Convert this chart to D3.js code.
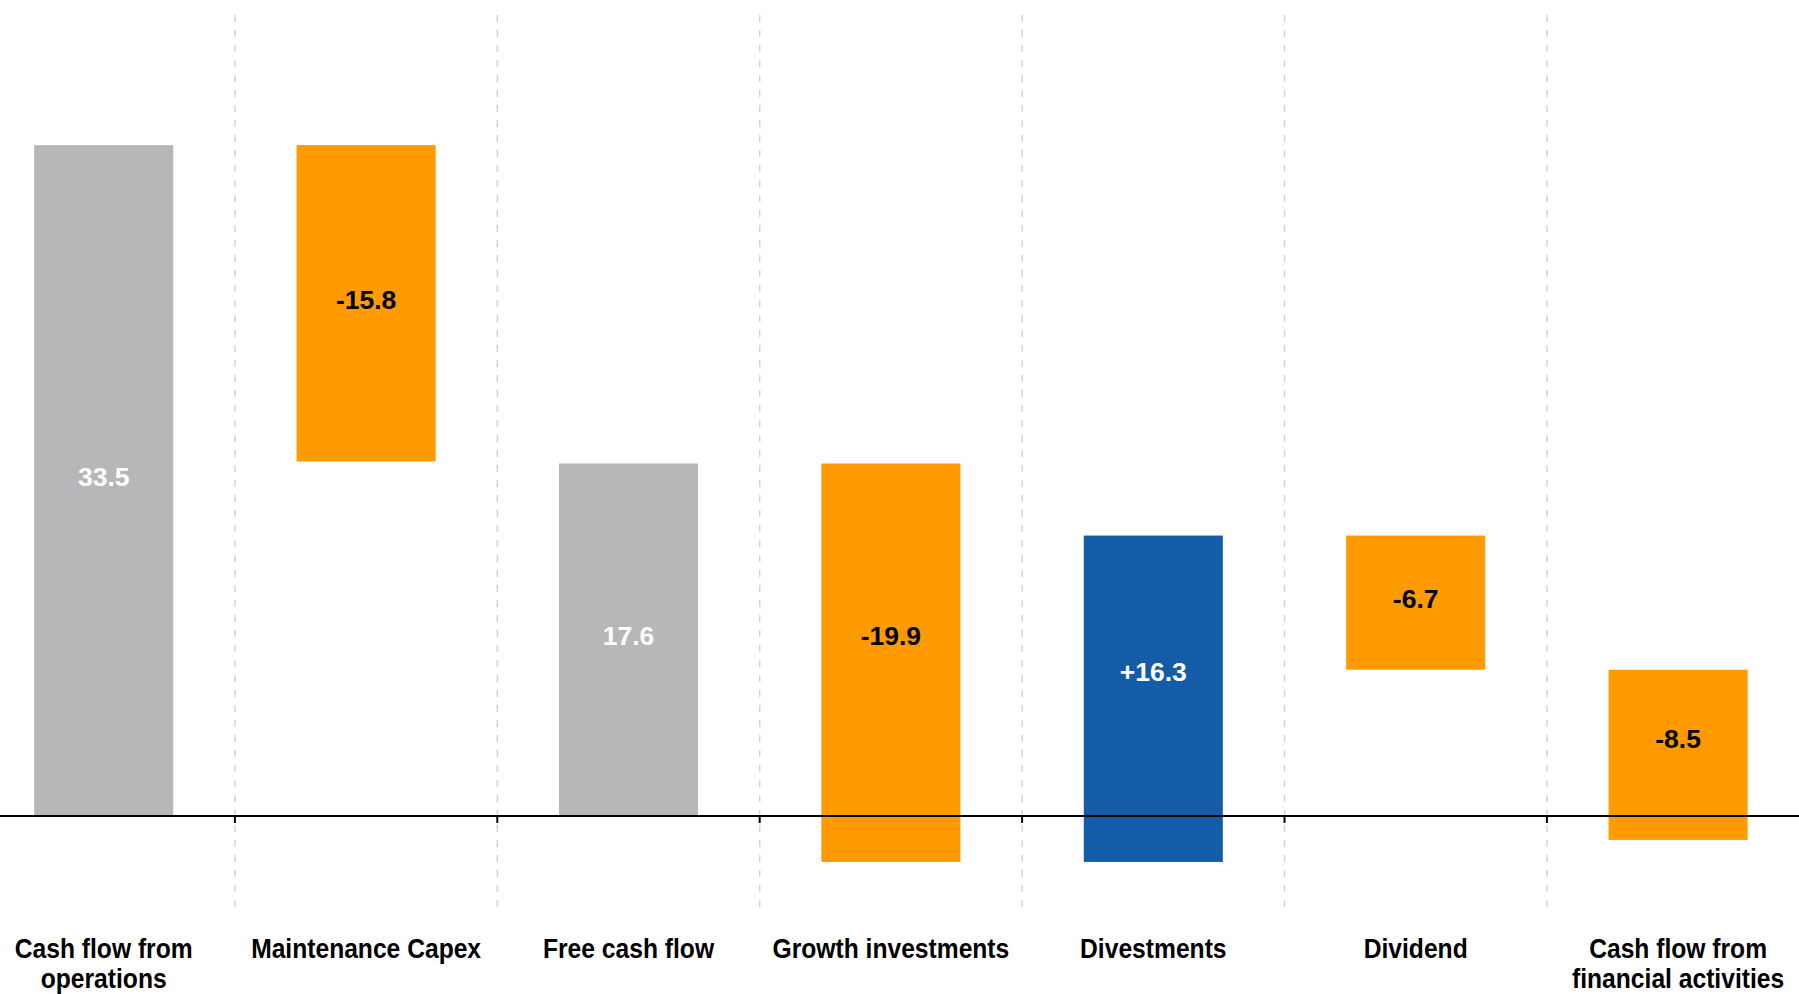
<!DOCTYPE html>
<html>
<head>
<meta charset="utf-8">
<script src="https://cdn.jsdelivr.net/npm/d3@7"></script>
<style>
	html, body { margin:0; padding:0; background:#fff; }
	svg { display:block; }
</style>
</head>
<body>
<div id="wrap"></div>
<script>
//waterfall: cash flow bridge
(function(){

	//data
	var categories = ["cfo", "capex", "fcf", "growth", "divest", "dividend", "cffa"];
	var catLines = [
		["Cash flow from", "operations"],
		["Maintenance Capex"],
		["Free cash flow"],
		["Growth investments"],
		["Divestments"],
		["Dividend"],
		["Cash flow from", "financial activities"]
	];
	var values = [33.5, -15.8, 17.6, -19.9, 16.3, -6.7, -8.5];
	var kinds = ["total", "delta", "total", "delta", "delta", "delta", "delta"];
	var valueLabels = ["33.5", "-15.8", "17.6", "-19.9", "+16.3", "-6.7", "-8.5"];

	var W = 1799, H = 994;
	var col = {total:"#b6b7b9", neg:"#ff9a00", pos:"#145ca8"};

	var svg = d3.select("#wrap").append("svg").attr("width", W).attr("height", H);

	var x = d3.scaleBand().domain(categories).range([-27.5, 1809.3]).paddingInner(0).paddingOuter(0);
	var y = d3.scaleLinear().domain([-5, 40]).range([916, 15]);
	var barW = x.bandwidth()*0.53;

	//build running totals
	var run = 0;
	var bars = categories.map(function(c, i){
		var v = values[i], a, b;
		if(kinds[i]==="total"){ a = 0; b = v; run = v; }
		else{ a = run; b = run + v; run = b; }
		return {cat:c, i:i, lo:Math.min(a,b), hi:Math.max(a,b), v:v, kind:kinds[i]};
	});

	//dashed separators between categories
	var bounds = categories.slice(0, -1).map(function(c){ return x(c) + x.bandwidth(); });
	svg.append("g").selectAll("line").data(bounds).enter().append("line")
		.attr("x1", function(d){return d}).attr("x2", function(d){return d})
		.attr("y1", y(40)).attr("y2", y(-4.8))
		.attr("stroke", "#d3d3d3").attr("stroke-width", 1.4)
		.attr("stroke-dasharray", "7,8");

	//bars
	svg.append("g").selectAll("rect").data(bars).enter().append("rect")
		.attr("x", function(d){ return x(d.cat) + (x.bandwidth()-barW)/2; })
		.attr("width", barW)
		.attr("y", function(d){ return y(d.hi); })
		.attr("height", function(d){ return y(d.lo) - y(d.hi); })
		.attr("fill", function(d){ return d.kind==="total" ? col.total : (d.v<0 ? col.neg : col.pos); });

	//zero line with ticks at the separators
	svg.append("line").attr("x1", 0).attr("x2", W).attr("y1", y(0)).attr("y2", y(0))
		.attr("stroke", "#000").attr("stroke-width", 2);
	svg.append("g").selectAll("line").data(bounds).enter().append("line")
		.attr("x1", function(d){return d}).attr("x2", function(d){return d})
		.attr("y1", y(0)).attr("y2", y(0) + 7)
		.attr("stroke", "#000").attr("stroke-width", 2);

	//value labels, centred on the part of the bar above zero
	svg.append("g").selectAll("text").data(bars).enter().append("text")
		.attr("x", function(d){ return x(d.cat) + x.bandwidth()/2; })
		.attr("y", function(d){ return (y(d.hi) + y(Math.max(d.lo, 0)))/2 - 4; })
		.attr("dy", "0.36em")
		.attr("text-anchor", "middle")
		.style("font-family", "'Liberation Sans', Arial, sans-serif")
		.style("font-weight", "bold").style("font-size", "26.5px")
		.attr("fill", function(d){ return (d.kind==="total" || d.v>0) ? "#fff" : "#000"; })
		.text(function(d){ return valueLabels[d.i]; });

	//category labels (narrow, tall type)
	var cl = svg.append("g").selectAll("g").data(categories).enter().append("g")
		.attr("transform", function(c){ return "translate(" + (x(c) + x.bandwidth()/2) + ",958) scale(0.88,1)"; });
	cl.selectAll("text").data(function(c, i){ return catLines[i]; }).enter().append("text")
		.attr("x", 0).attr("y", function(d, j){ return j*30; })
		.attr("text-anchor", "middle")
		.style("font-family", "'Liberation Sans', Arial, sans-serif")
		.style("font-weight", "bold").style("font-size", "28px")
		.attr("fill", "#000")
		.text(function(d){ return d; });

})();
</script>
</body>
</html>
